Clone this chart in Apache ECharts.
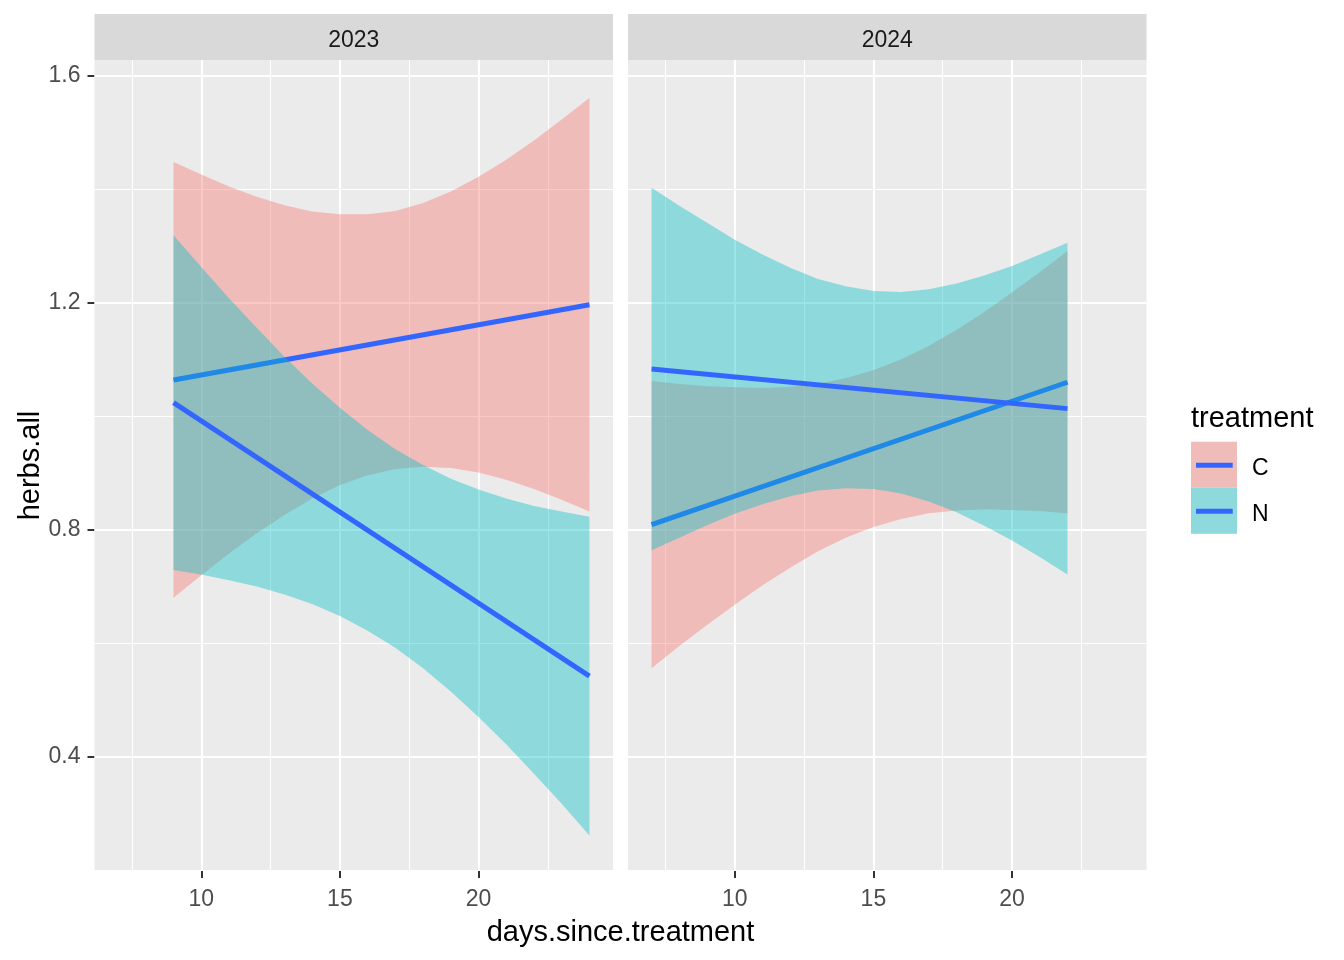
<!DOCTYPE html>
<html>
<head>
<meta charset="utf-8">
<script src="https://cdn.jsdelivr.net/npm/echarts@6/dist/echarts.min.js"></script>
<style>
html,body{margin:0;padding:0;background:#ffffff;}
#chart{width:1344px;height:960px;}
</style>
</head>
<body>
<div id="chart"></div>
<script>
// ---------------- data ----------------
const panels = ['2023', '2024'];
const treatments = ['C', 'N'];

// 2023 facet: days 9..24
const days2023 = [9,10,11,12,13,14,15,16,17,18,19,20,21,22,23,24];
const cUpper2023 = [1.448,1.426,1.405,1.387,1.372,1.361,1.356,1.356,1.362,1.376,1.396,1.422,1.452,1.486,1.523,1.561];
const cLower2023 = [0.680,0.720,0.758,0.794,0.826,0.855,0.879,0.896,0.907,0.911,0.909,0.901,0.888,0.872,0.853,0.832];
const nUpper2023 = [1.319,1.263,1.208,1.156,1.105,1.058,1.015,0.976,0.942,0.914,0.890,0.871,0.855,0.842,0.832,0.823];
const nLower2023 = [0.729,0.721,0.711,0.700,0.686,0.669,0.648,0.622,0.592,0.556,0.515,0.470,0.422,0.370,0.317,0.261];
const fitDays2023 = [9, 24];
const cFit2023 = [1.064, 1.1965];
const nFit2023 = [1.024, 0.542];

// 2024 facet: days 7..22
const days2024 = [7,8,9,10,11,12,13,14,15,16,17,18,19,20,21,22];
const cUpper2024 = [1.062,1.057,1.053,1.051,1.050,1.052,1.057,1.067,1.081,1.100,1.124,1.152,1.184,1.218,1.254,1.291];
const cLower2024 = [0.556,0.595,0.632,0.668,0.702,0.733,0.762,0.786,0.805,0.819,0.829,0.834,0.836,0.835,0.833,0.829];
const nUpper2024 = [1.403,1.371,1.341,1.311,1.285,1.262,1.242,1.229,1.221,1.219,1.224,1.234,1.248,1.265,1.285,1.306];
const nLower2024 = [0.764,0.786,0.808,0.828,0.845,0.859,0.869,0.873,0.872,0.864,0.850,0.831,0.807,0.781,0.752,0.721];
const fitDays2024 = [7, 22];
const cFit2024 = [0.809, 1.060];
const nFit2024 = [1.0835, 1.0135];

// axis ticks
const xTicks = [10, 15, 20];
const xMinor = [7.5, 12.5, 17.5, 22.5];
const yTicks = [0.4, 0.8, 1.2, 1.6];
const yMinor = [0.2, 0.6, 1.0, 1.4];

// ---------------- styling / layout ----------------
const FONT = '"Liberation Sans", Arial, Helvetica, sans-serif';
const X_MIN = 6.15, X_MAX = 24.85;
const Y_MIN = 0.1985, Y_MAX = 1.628;
const FILL_C = 'rgba(248,118,109,0.4)';
const FILL_N = 'rgba(0,191,196,0.4)';
const LINE_COLOR = '#3366FF';
const PANEL_TOP = 60, PANEL_H = 811, PANEL_W = 518.5;
const PANEL_LEFT = [94.5, 628];

const facetData = [
  {days: days2023, cUp: cUpper2023, cLo: cLower2023, nUp: nUpper2023, nLo: nLower2023,
   fitDays: fitDays2023, cFit: cFit2023, nFit: nFit2023},
  {days: days2024, cUp: cUpper2024, cLo: cLower2024, nUp: nUpper2024, nLo: nLower2024,
   fitDays: fitDays2024, cFit: cFit2024, nFit: nFit2024}
];

function ribbon(gi, xs, up, lo, color, z) {
  return {
    type: 'custom', xAxisIndex: gi, yAxisIndex: gi, z: z, silent: true, animation: false,
    data: [[xs[0], lo[0]]],
    renderItem: function (params, api) {
      const pts = [];
      for (let i = 0; i < xs.length; i++) pts.push(api.coord([xs[i], up[i]]));
      for (let i = xs.length - 1; i >= 0; i--) pts.push(api.coord([xs[i], lo[i]]));
      return {type: 'polygon', shape: {points: pts}, style: {fill: color, stroke: null}};
    }
  };
}
function fitLine(gi, xs, ys, z) {
  return {
    type: 'line', xAxisIndex: gi, yAxisIndex: gi, z: z, silent: true, animation: false,
    data: xs.map((x, i) => [x, ys[i]]),
    symbol: 'none', showSymbol: false,
    lineStyle: {color: LINE_COLOR, width: 5, cap: 'butt'}
  };
}
function gridLines(gi) {
  const d = [];
  yMinor.forEach(v => d.push({yAxis: v, lineStyle: {color: '#FFFFFF', width: 1.1, type: 'solid'}}));
  xMinor.forEach(v => d.push({xAxis: v, lineStyle: {color: '#FFFFFF', width: 1.1, type: 'solid'}}));
  yTicks.forEach(v => d.push({yAxis: v, lineStyle: {color: '#FFFFFF', width: 2.1, type: 'solid'}}));
  xTicks.forEach(v => d.push({xAxis: v, lineStyle: {color: '#FFFFFF', width: 2.1, type: 'solid'}}));
  return {
    type: 'line', xAxisIndex: gi, yAxisIndex: gi, data: [], silent: true, animation: false,
    markLine: {silent: true, z: 1, animation: false, symbol: ['none', 'none'], label: {show: false},
               emphasis: {disabled: true}, data: d}
  };
}

const grids = PANEL_LEFT.map(l => ({left: l, top: PANEL_TOP, width: PANEL_W, height: PANEL_H,
  show: true, backgroundColor: '#EBEBEB', borderWidth: 0, containLabel: false}));

const xAxes = PANEL_LEFT.map((l, i) => ({
  gridIndex: i, type: 'value', min: X_MIN, max: X_MAX,
  axisLine: {show: false}, splitLine: {show: false}, minorSplitLine: {show: false},
  axisTick: {show: true, length: 7, lineStyle: {color: '#333333', width: 2}, customValues: xTicks},
  axisLabel: {show: true, customValues: xTicks, color: '#4D4D4D', fontSize: 23, fontFamily: FONT, margin: 17}
}));
const yAxes = PANEL_LEFT.map((l, i) => ({
  gridIndex: i, type: 'value', min: Y_MIN, max: Y_MAX,
  axisLine: {show: false}, splitLine: {show: false}, minorSplitLine: {show: false},
  axisTick: {show: i === 0, length: 7, lineStyle: {color: '#333333', width: 2}, customValues: yTicks},
  axisLabel: {show: i === 0, customValues: yTicks, color: '#4D4D4D', fontSize: 23, fontFamily: FONT, margin: 14,
              formatter: v => v.toFixed(1), padding: [2, 0, 0, 0]}
}));

const series = [];
facetData.forEach((f, gi) => {
  series.push(gridLines(gi));
  series.push(ribbon(gi, f.days, f.cUp, f.cLo, FILL_C, 2));
  series.push(fitLine(gi, f.fitDays, f.cFit, 3));
  series.push(ribbon(gi, f.days, f.nUp, f.nLo, FILL_N, 4));
  series.push(fitLine(gi, f.fitDays, f.nFit, 5));
});

const graphics = [];
// facet strips
panels.forEach((p, i) => {
  graphics.push({type: 'rect', shape: {x: PANEL_LEFT[i], y: 14, width: PANEL_W, height: 46},
                 style: {fill: '#D9D9D9'}, silent: true});
  graphics.push({type: 'text', x: PANEL_LEFT[i] + PANEL_W / 2, y: 40.5, silent: true,
                 style: {text: p, fill: '#1A1A1A', fontSize: 23, fontFamily: FONT,
                         align: 'center', verticalAlign: 'middle'}});
});
// axis titles
graphics.push({type: 'text', x: 620.5, y: 933, silent: true,
  style: {text: 'days.since.treatment', fill: '#000000', fontSize: 29, fontFamily: FONT,
          align: 'center', verticalAlign: 'middle'}});
graphics.push({type: 'text', x: 31, y: 465.5, rotation: Math.PI / 2, silent: true,
  style: {text: 'herbs.all', fill: '#000000', fontSize: 29, fontFamily: FONT,
          align: 'center', verticalAlign: 'middle'}});
// legend
graphics.push({type: 'text', x: 1191, y: 419, silent: true,
  style: {text: 'treatment', fill: '#000000', fontSize: 29, fontFamily: FONT,
          align: 'left', verticalAlign: 'middle'}});
const keyFills = [FILL_C, FILL_N];
treatments.forEach((t, i) => {
  const ky = 441.7 + i * 46;
  graphics.push({type: 'rect', shape: {x: 1191, y: ky, width: 46, height: 46}, style: {fill: '#EBEBEB'}, silent: true});
  graphics.push({type: 'rect', shape: {x: 1191, y: ky, width: 46, height: 46}, style: {fill: keyFills[i]}, silent: true});
  graphics.push({type: 'line', shape: {x1: 1196, y1: ky + 23.5, x2: 1232.7, y2: ky + 23.5},
                 style: {stroke: LINE_COLOR, lineWidth: 5}, silent: true});
  graphics.push({type: 'text', x: 1252, y: ky + 27, silent: true,
                 style: {text: t, fill: '#000000', fontSize: 23, fontFamily: FONT,
                         align: 'left', verticalAlign: 'middle'}});
});

const chart = echarts.init(document.getElementById('chart'), null, {renderer: 'canvas'});
chart.setOption({
  backgroundColor: '#FFFFFF',
  animation: false,
  textStyle: {fontFamily: FONT},
  grid: grids,
  xAxis: xAxes,
  yAxis: yAxes,
  series: series,
  graphic: {elements: graphics}
});
</script>
</body>
</html>
